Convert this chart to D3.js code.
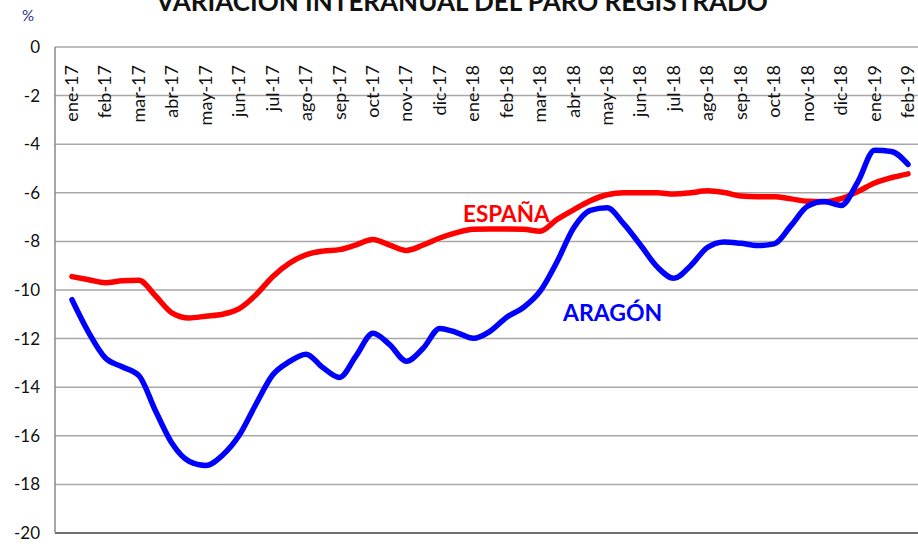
<!DOCTYPE html>
<html>
<head>
<meta charset="utf-8">
<script src="https://cdn.jsdelivr.net/npm/d3@7"></script>
<style>
  body { margin: 0; background: #fff; }
  text { font-family: Lato, "Open Sans", sans-serif; }
</style>
</head>
<body>
<div id="chart"></div>
<script>
// month labels (one per tick)
var meses = ["ene-17","feb-17","mar-17","abr-17","may-17","jun-17","jul-17","ago-17","sep-17","oct-17","nov-17","dic-17",
             "ene-18","feb-18","mar-18","abr-18","may-18","jun-18","jul-18","ago-18","sep-18","oct-18","nov-18","dic-18",
             "ene-19","feb-19"];

// half-month steps (0 = ene-17)
var tiempo = d3.range(0, 25.01, 0.5);

var espana = [-9.45,-9.58,-9.70,-9.62,-9.60,-10.25,-10.95,-11.15,-11.08,-11.00,-10.77,-10.20,-9.45,-8.90,-8.55,-8.40,
              -8.34,-8.14,-7.92,-8.15,-8.37,-8.15,-7.86,-7.64,-7.50,-7.49,-7.49,-7.50,-7.58,-7.10,-6.70,-6.33,
              -6.08,-6.00,-6.00,-6.00,-6.05,-6.00,-5.92,-5.99,-6.13,-6.16,-6.16,-6.25,-6.35,-6.37,-6.24,-5.95,
              -5.60,-5.38,-5.22];

var aragon = [-10.40,-11.75,-12.80,-13.16,-13.52,-14.98,-16.33,-17.05,-17.22,-16.80,-15.98,-14.70,-13.50,-12.95,-12.64,-13.19,
              -13.60,-12.70,-11.78,-12.25,-12.93,-12.40,-11.58,-11.75,-11.99,-11.70,-11.12,-10.72,-10.05,-8.85,-7.45,-6.72,
              -6.62,-7.28,-8.15,-9.05,-9.52,-9.00,-8.25,-8.02,-8.08,-8.17,-8.10,-7.35,-6.55,-6.36,-6.52,-5.55,
              -4.25,-4.30,-4.83];

var yTicks = [0,-2,-4,-6,-8,-10,-12,-14,-16,-18,-20];

var width = 918, height = 547;
var plot = {left: 55, right: 918, top: 47, bottom: 533};

var svg = d3.select("#chart").append("svg")
    .attr("width", width)
    .attr("height", height);

var x = d3.scaleLinear().domain([0, 25]).range([72, 908]);
var y = d3.scaleLinear().domain([-20, 0]).range([plot.bottom, plot.top]);

// gridlines
svg.append("g")
    .selectAll("line")
    .data(yTicks)
    .enter().append("line")
    .attr("x1", plot.left)
    .attr("x2", plot.right)
    .attr("y1", function(d) { return y(d); })
    .attr("y2", function(d) { return y(d); })
    .attr("stroke", function(d) { return d === -20 ? "#404040" : "#a8a8a8"; })
    .attr("stroke-width", 1.5);

// left axis line
svg.append("line")
    .attr("x1", plot.left).attr("x2", plot.left)
    .attr("y1", plot.top).attr("y2", plot.bottom)
    .attr("stroke", "#888").attr("stroke-width", 1.5);

// y labels
svg.append("g")
    .selectAll("text")
    .data(yTicks)
    .enter().append("text")
    .attr("x", 40)
    .attr("y", function(d) { return y(d) + 6; })
    .attr("text-anchor", "end")
    .style("font-size", "17px")
    .style("fill", "#111")
    .text(function(d) { return d; });

// month labels, rotated inside the plot
svg.append("g")
    .selectAll("text")
    .data(meses)
    .enter().append("text")
    .attr("transform", function(d, i) { return "translate(" + (x(i) + 6) + ",65) rotate(-90)"; })
    .attr("text-anchor", "end")
    .style("font-size", "18px")
    .style("fill", "#111")
    .text(function(d) { return d; });

// lines
var line = function(vals) {
    return d3.line()
        .x(function(d, i) { return x(tiempo[i]); })
        .y(function(d) { return y(d); })
        .curve(d3.curveMonotoneX)(vals);
};

svg.append("path")
    .attr("d", line(espana))
    .attr("fill", "none")
    .attr("stroke", "#ff0000")
    .attr("stroke-width", 5.5)
    .attr("stroke-linejoin", "round")
    .attr("stroke-linecap", "round");

svg.append("path")
    .attr("d", line(aragon))
    .attr("fill", "none")
    .attr("stroke", "#0000ff")
    .attr("stroke-width", 5.5)
    .attr("stroke-linejoin", "round")
    .attr("stroke-linecap", "round");

// series labels
svg.append("text")
    .attr("x", 463).attr("y", 222)
    .style("font-size", "22.5px").style("font-weight", "bold")
    .style("fill", "#ff0000")
    .text("ESPAÑA");

svg.append("text")
    .attr("x", 563).attr("y", 321)
    .style("font-size", "23px").style("font-weight", "bold")
    .style("fill", "#0000ff")
    .text("ARAGÓN");

// title (cut at the top, as in the original)
svg.append("text")
    .attr("x", 462).attr("y", 11)
    .attr("text-anchor", "middle")
    .style("font-size", "26px").style("font-weight", "bold")
    .style("fill", "#111")
    .text("VARIACIÓN INTERANUAL DEL PARO REGISTRADO");

svg.append("text")
    .attr("x", 22).attr("y", 21)
    .style("font-size", "15px")
    .style("fill", "#2e2e8f")
    .text("%");
</script>
</body>
</html>
